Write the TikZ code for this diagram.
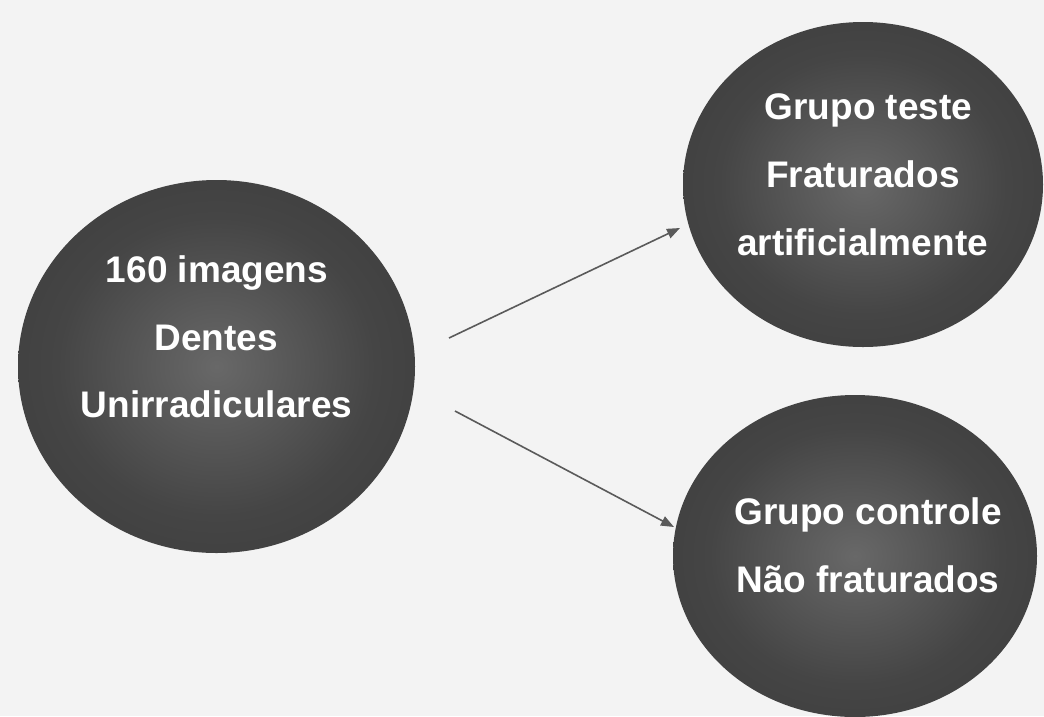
\documentclass[tikz,border=0pt]{standalone}
\usepackage{fontspec}
\setmainfont{Liberation Sans}
\usetikzlibrary{shapes.geometric,arrows.meta}
\definecolor{bg}{HTML}{F3F3F3}
\definecolor{ballin}{HTML}{686868}
\definecolor{ballmid}{HTML}{454545}
\definecolor{ballout}{HTML}{323232}
\definecolor{arrowgray}{HTML}{5A5A5A}
\pgfdeclareradialshading{ball}{\pgfpoint{0bp}{0bp}}{color(0bp)=(ballin); color(20bp)=(ballmid); color(48bp)=(ballout); color(100bp)=(ballout)}
\tikzset{
  blob/.style={ellipse, shading=ball, inner sep=0pt, draw=none},
  lbl/.style={anchor=base, text=white, inner sep=0pt, font=\fontsize{37}{44}\selectfont\bfseries},
  conn/.style={draw=arrowgray, line width=1.6pt, -{Triangle[length=13pt,width=10pt]}}
}
\begin{document}
\begin{tikzpicture}[x=1pt,y=-1pt]
\useasboundingbox (0,0) rectangle (1044,716);
\fill[bg] (0,0) rectangle (1044,716);
\clip (0,0) rectangle (1044,716);
% ellipses
\node[blob, minimum width=397pt, minimum height=373pt] (e1) at (216.5,366.5) {};
\node[blob, minimum width=360pt, minimum height=325pt] (e2) at (863,184.5) {};
\node[blob, minimum width=364pt, minimum height=322pt] (e3) at (855,556) {};
% texts
\node[lbl] (t1a) at (217,282) {160 imagens};
\node[lbl] (t1b) at (216,350) {Dentes};
\node[lbl] (t1c) at (216.5,417) {Unirradiculares};
\node[lbl] (t2a) at (868.5,119) {Grupo teste};
\node[lbl] (t2b) at (863,187) {Fraturados};
\node[lbl] (t2c) at (862.5,255) {artificialmente};
\node[lbl] (t3a) at (868,524) {Grupo controle};
\node[lbl] (t3b) at (868,592) {Não fraturados};
% connectors
\coordinate (s1) at (449,338);
\coordinate (f1) at (680,228);
\coordinate (s2) at (455,411);
\coordinate (f2) at (674,527);
\draw[conn] (s1) -- (f1);
\draw[conn] (s2) -- (f2);
\end{tikzpicture}
\end{document}
